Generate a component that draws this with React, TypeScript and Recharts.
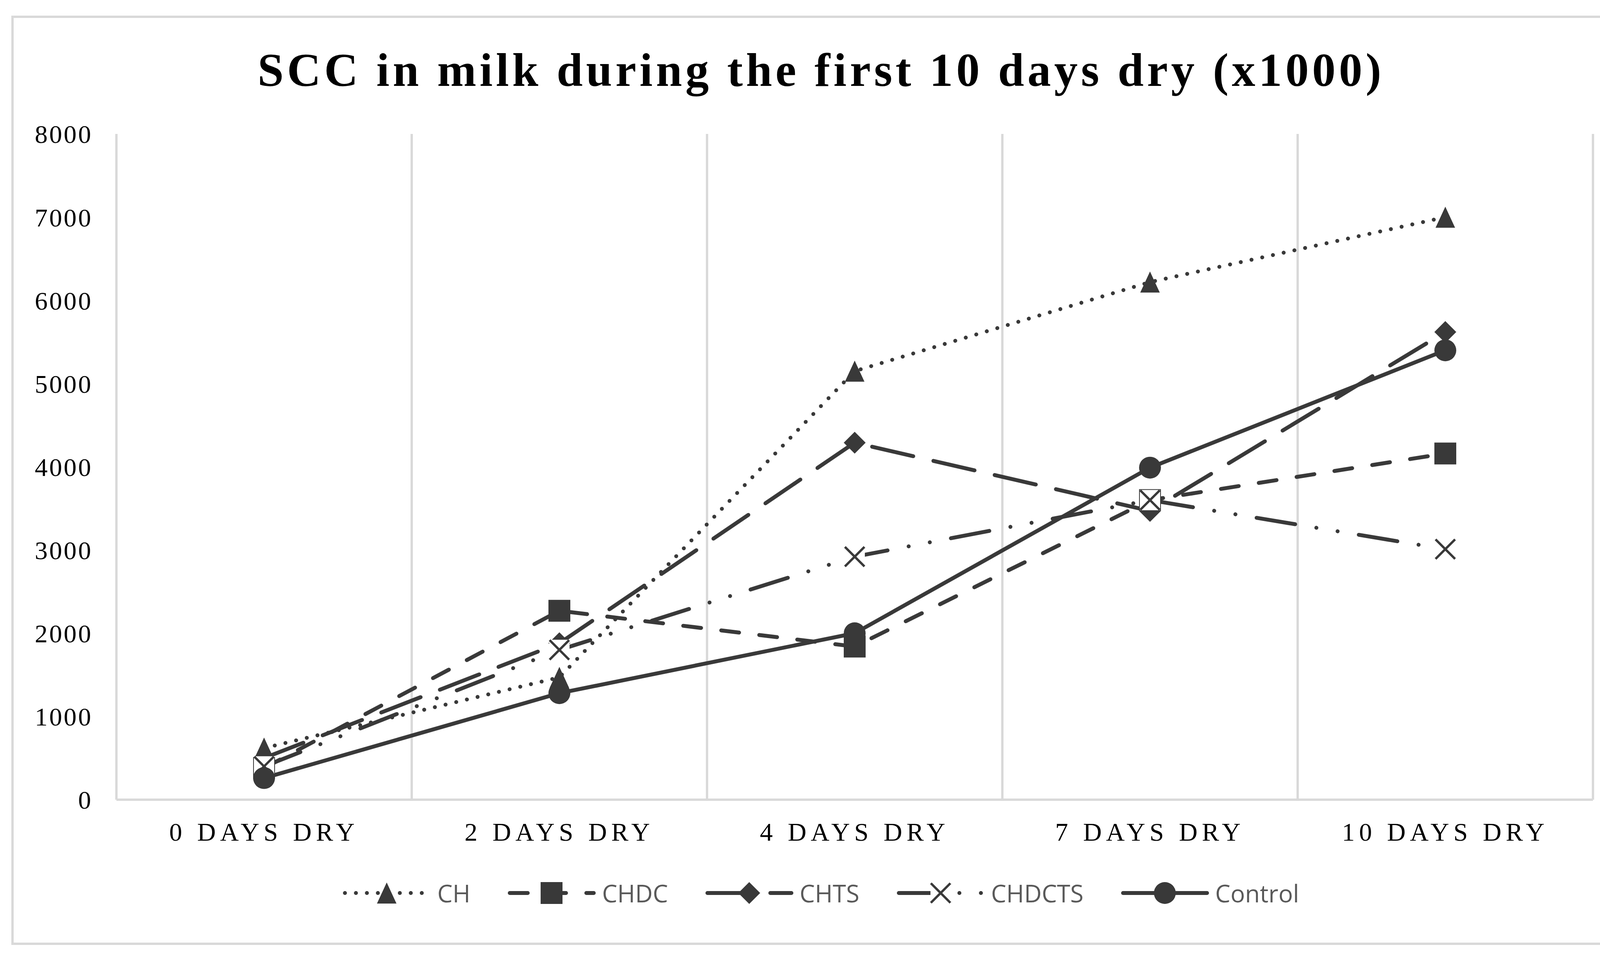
import { LineChart, Line, XAxis, YAxis, CartesianGrid, Legend } from "recharts";

const categories = ["0 DAYS DRY", "2 DAYS DRY", "4 DAYS DRY", "7 DAYS DRY", "10 DAYS DRY"];
const ch = [620, 1470, 5150, 6220, 7000];
const chdc = [380, 2270, 1840, 3600, 4160];
const chts = [500, 1880, 4290, 3470, 5620];
const chdcts = [400, 1800, 2920, 3600, 3010];
const control = [260, 1280, 2000, 3990, 5400];
const yTicks = [0, 1000, 2000, 3000, 4000, 5000, 6000, 7000, 8000];

const INK = "#393939";
const GRID = "#d9d9d9";
const SERIF = "'Liberation Serif', 'Times New Roman', serif";

const series = [
  { key: "CH", dash: "0.1 28", shape: "triangle" },
  { key: "CHDC", dash: "46 52", shape: "square" },
  { key: "CHTS", dash: "108 53", shape: "diamond" },
  { key: "CHDCTS", dash: "100 55 0.1 55 0.1 55", shape: "cross" },
  { key: "Control", dash: undefined, shape: "circle" },
];

const data = categories.map((name, i) => ({
  name,
  CH: ch[i],
  CHDC: chdc[i],
  CHTS: chts[i],
  CHDCTS: chdcts[i],
  Control: control[i],
}));

function Marker({ shape, cx, cy }: { shape: string; cx: number; cy: number }) {
  if (cx == null || cy == null) return null;
  switch (shape) {
    case "triangle":
      return (
        <polygon
          points={`${cx},${cy - 27} ${cx + 25},${cy + 27} ${cx - 25},${cy + 27}`}
          fill={INK}
        />
      );
    case "square":
      return <rect x={cx - 28} y={cy - 28} width={56} height={56} fill={INK} />;
    case "diamond":
      return (
        <polygon
          points={`${cx},${cy - 28} ${cx + 28},${cy} ${cx},${cy + 28} ${cx - 28},${cy}`}
          fill={INK}
        />
      );
    case "cross":
      // x marker keeps a white square behind it, like the original
      return (
        <g>
          <rect x={cx - 26} y={cy - 26} width={52} height={52} fill="#fff" />
          <path
            d={`M${cx - 25},${cy - 25} L${cx + 25},${cy + 25} M${cx + 25},${cy - 25} L${cx - 25},${cy + 25}`}
            stroke={INK}
            strokeWidth={6}
          />
        </g>
      );
    default:
      return <circle cx={cx} cy={cy} r={28} fill={INK} />;
  }
}

const renderLegend = () => (
  <div style={{ display: "flex", justifyContent: "center", alignItems: "center", gap: 96 }}>
    {series.map((s) => (
      <div key={s.key} style={{ display: "flex", alignItems: "center" }}>
        <svg width={225} height={64}>
          <line
            x1={5}
            y1={32}
            x2={220}
            y2={32}
            stroke={INK}
            strokeWidth={10}
            strokeDasharray={s.dash}
            strokeLinecap="round"
          />
          <Marker shape={s.shape} cx={112} cy={32} />
        </svg>
        <span style={{ marginLeft: 16, fontFamily: "'Open Sans'", fontSize: 62, lineHeight: "64px", color: "#595959" }}>
          {s.key}
        </span>
      </div>
    ))}
  </div>
);

export default function App() {
  return (
    <div style={{ position: "absolute", left: 0, top: 0, width: 4204, height: 2456, background: "#fff" }}>
      <div
        style={{
          position: "absolute",
          left: 29,
          top: 40,
          width: 4142,
          height: 2380,
          boxSizing: "border-box",
          border: `6px solid ${GRID}`,
        }}
      />
      <div
        style={{
          position: "absolute",
          left: 0,
          top: 120,
          width: 4204,
          textAlign: "center",
          fontFamily: SERIF,
          fontWeight: "bold",
          fontSize: 120,
          lineHeight: "120px",
          letterSpacing: 8.5,
          color: "#000",
        }}
      >
        SCC in milk during the first 10 days dry (x1000)
      </div>
      <div style={{ position: "absolute", left: 0, top: 0 }}>
        <LineChart width={4204} height={2456} data={data} margin={{ top: 343, right: 126, bottom: 378, left: 0 }}>
          <CartesianGrid
            horizontal={false}
            stroke={GRID}
            strokeWidth={6}
            verticalCoordinatesGenerator={({ offset }: any) =>
              [0, 1, 2, 3, 4, 5].map((i) => offset.left + (i * offset.width) / 5)
            }
          />
          <XAxis
            dataKey="name"
            height={30}
            padding={{ left: 378, right: 378 }}
            axisLine={{ stroke: GRID, strokeWidth: 6 }}
            tickLine={false}
            tickSize={0}
            tickMargin={58}
            interval={0}
            tick={{ fontFamily: SERIF, fontSize: 66, fill: "#000", letterSpacing: 11 }}
          />
          <YAxis
            width={298}
            domain={[0, 8000]}
            ticks={yTicks}
            axisLine={false}
            tickLine={false}
            tickSize={0}
            tickMargin={61}
            interval={0}
            tick={{ fontFamily: SERIF, fontSize: 66, fill: "#000", letterSpacing: 4 }}
          />
          <Legend
            layout="horizontal"
            verticalAlign="middle"
            content={renderLegend}
            wrapperStyle={{ top: 2255, left: 0, width: 4204 }}
          />
          {series.map((s) => (
            <Line
              key={s.key}
              dataKey={s.key}
              type="linear"
              stroke={INK}
              strokeWidth={10}
              strokeDasharray={s.dash}
              strokeLinecap="round"
              strokeLinejoin="round"
              isAnimationActive={false}
              activeDot={false}
              dot={(p: any) => <Marker key={`${s.key}-${p.index}`} shape={s.shape} cx={p.cx} cy={p.cy} />}
            />
          ))}
        </LineChart>
      </div>
    </div>
  );
}
